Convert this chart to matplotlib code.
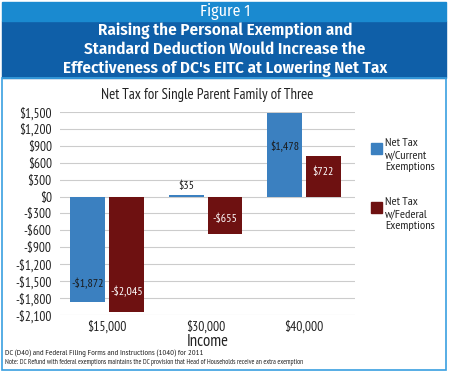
import matplotlib
matplotlib.use("Agg")
import matplotlib.pyplot as plt
from matplotlib.patches import Rectangle
import numpy as np

plt.rcParams['font.family'] = ['PT Sans Narrow', 'DejaVu Sans']

incomes = ["$15,000", "$30,000", "$40,000"]
current = [-1872, 35, 1478]
federal = [-2045, -655, 722]
yticks = list(range(-2100, 1501, 300))
series_names = ["Net Tax\nw/Current\nExemptions", "Net Tax\nw/Federal\nExemptions"]

blue = "#3b80c0"
red = "#6e1111"
head = ['Fira Sans Condensed', 'DejaVu Sans']


def money(v):
    s = "${:,}".format(abs(v))
    return "-" + s if v < 0 else s


fig = plt.figure(figsize=(4.5, 3.73), dpi=100)

# header bands and frame
fig.patches.append(Rectangle((2 / 450, 1 - 78 / 373), 444 / 450, 57 / 373,
                             transform=fig.transFigure, color="#0f5fa8", zorder=0))
fig.patches.append(Rectangle((2 / 450, 1 - 21 / 373), 444 / 450, 19 / 373,
                             transform=fig.transFigure, color="#1a8ad0", zorder=0))
fig.patches.append(Rectangle((2 / 450, 3 / 373), 444 / 450, 1 - 81 / 373,
                             transform=fig.transFigure, fill=False, ec="#3aa0e0", lw=1.2, zorder=0))

fig.text(0.5, 1 - 11.5 / 373, "Figure 1", color="white", fontsize=11.5, ha="center", va="center",
         family=head)
fig.text(0.5, 1 - 49.5 / 373,
         "Raising the Personal Exemption and\nStandard Deduction Would Increase the\nEffectiveness of DC's EITC at Lowering Net Tax",
         color="white", fontsize=12.3, fontweight="semibold", ha="center", va="center", linespacing=1.2,
         family=head)

ax = fig.add_axes([60 / 450, 58 / 373, 295 / 450, 203 / 373])
x = np.arange(len(incomes))
w = 0.355
off = 0.198
ax.bar(x - off, current, w, color=blue, zorder=2)
ax.bar(x + off, federal, w, color=red, zorder=2)

for xs, vals, col in [(x - off, current, "#1a1a1a"), (x + off, federal, "white")]:
    for xi, v in zip(xs, vals):
        if abs(v) < 100:
            ax.text(xi, v + 60, money(v), ha="center", va="bottom", fontsize=8.6, color="#1a1a1a")
        else:
            frac = 0.82 if v < -1500 else 0.6
            ax.text(xi, v * frac, money(v), ha="center", va="center", fontsize=8.6, color=col)

ax.set_ylim(-2100, 1500)
ax.set_xlim(-0.48, 2.52)
ax.set_yticks(yticks)
ax.set_yticklabels([money(t) for t in yticks], fontsize=9.6, color="#222222")
ax.set_xticks(x)
ax.set_xticklabels(incomes, fontsize=9.8, color="#222222")
ax.tick_params(axis="y", length=0, pad=6)
ax.tick_params(axis="x", length=0, pad=3.5)
ax.grid(axis="y", color="#cccccc", lw=0.8, zorder=0)
for s in ax.spines.values():
    s.set_visible(False)
ax.set_xlabel("Income", fontsize=12, labelpad=0.5, color="#222222")
ax.set_title("Net Tax for Single Parent Family of Three", fontsize=10.7, pad=9, color="#222222")

# legend
for i, (name, col) in enumerate(zip(series_names, [blue, red])):
    ysq = 1 - (148 + 59 * i) / 373
    fig.patches.append(Rectangle((371 / 450, ysq - 5.5 / 373), 11 / 450, 11 / 373,
                                 transform=fig.transFigure, color=col))
    fig.text(385 / 450, ysq - 7 / 373, name, fontsize=8.8, va="center", ha="left",
             color="#222222", linespacing=1.3)

fig.text(5 / 450, 1 - 353 / 373, "DC (D40) and Federal Filing Forms and Instructions (1040) for 2011",
         fontsize=6.1, va="center", color="#222222")
fig.text(5 / 450, 1 - 363 / 373,
         "Note: DC Refund with federal exemptions maintains the DC provision that Head of Households receive an extra exemption",
         fontsize=5.1, va="center", color="#222222")

fig.savefig("out.png", dpi=100)
